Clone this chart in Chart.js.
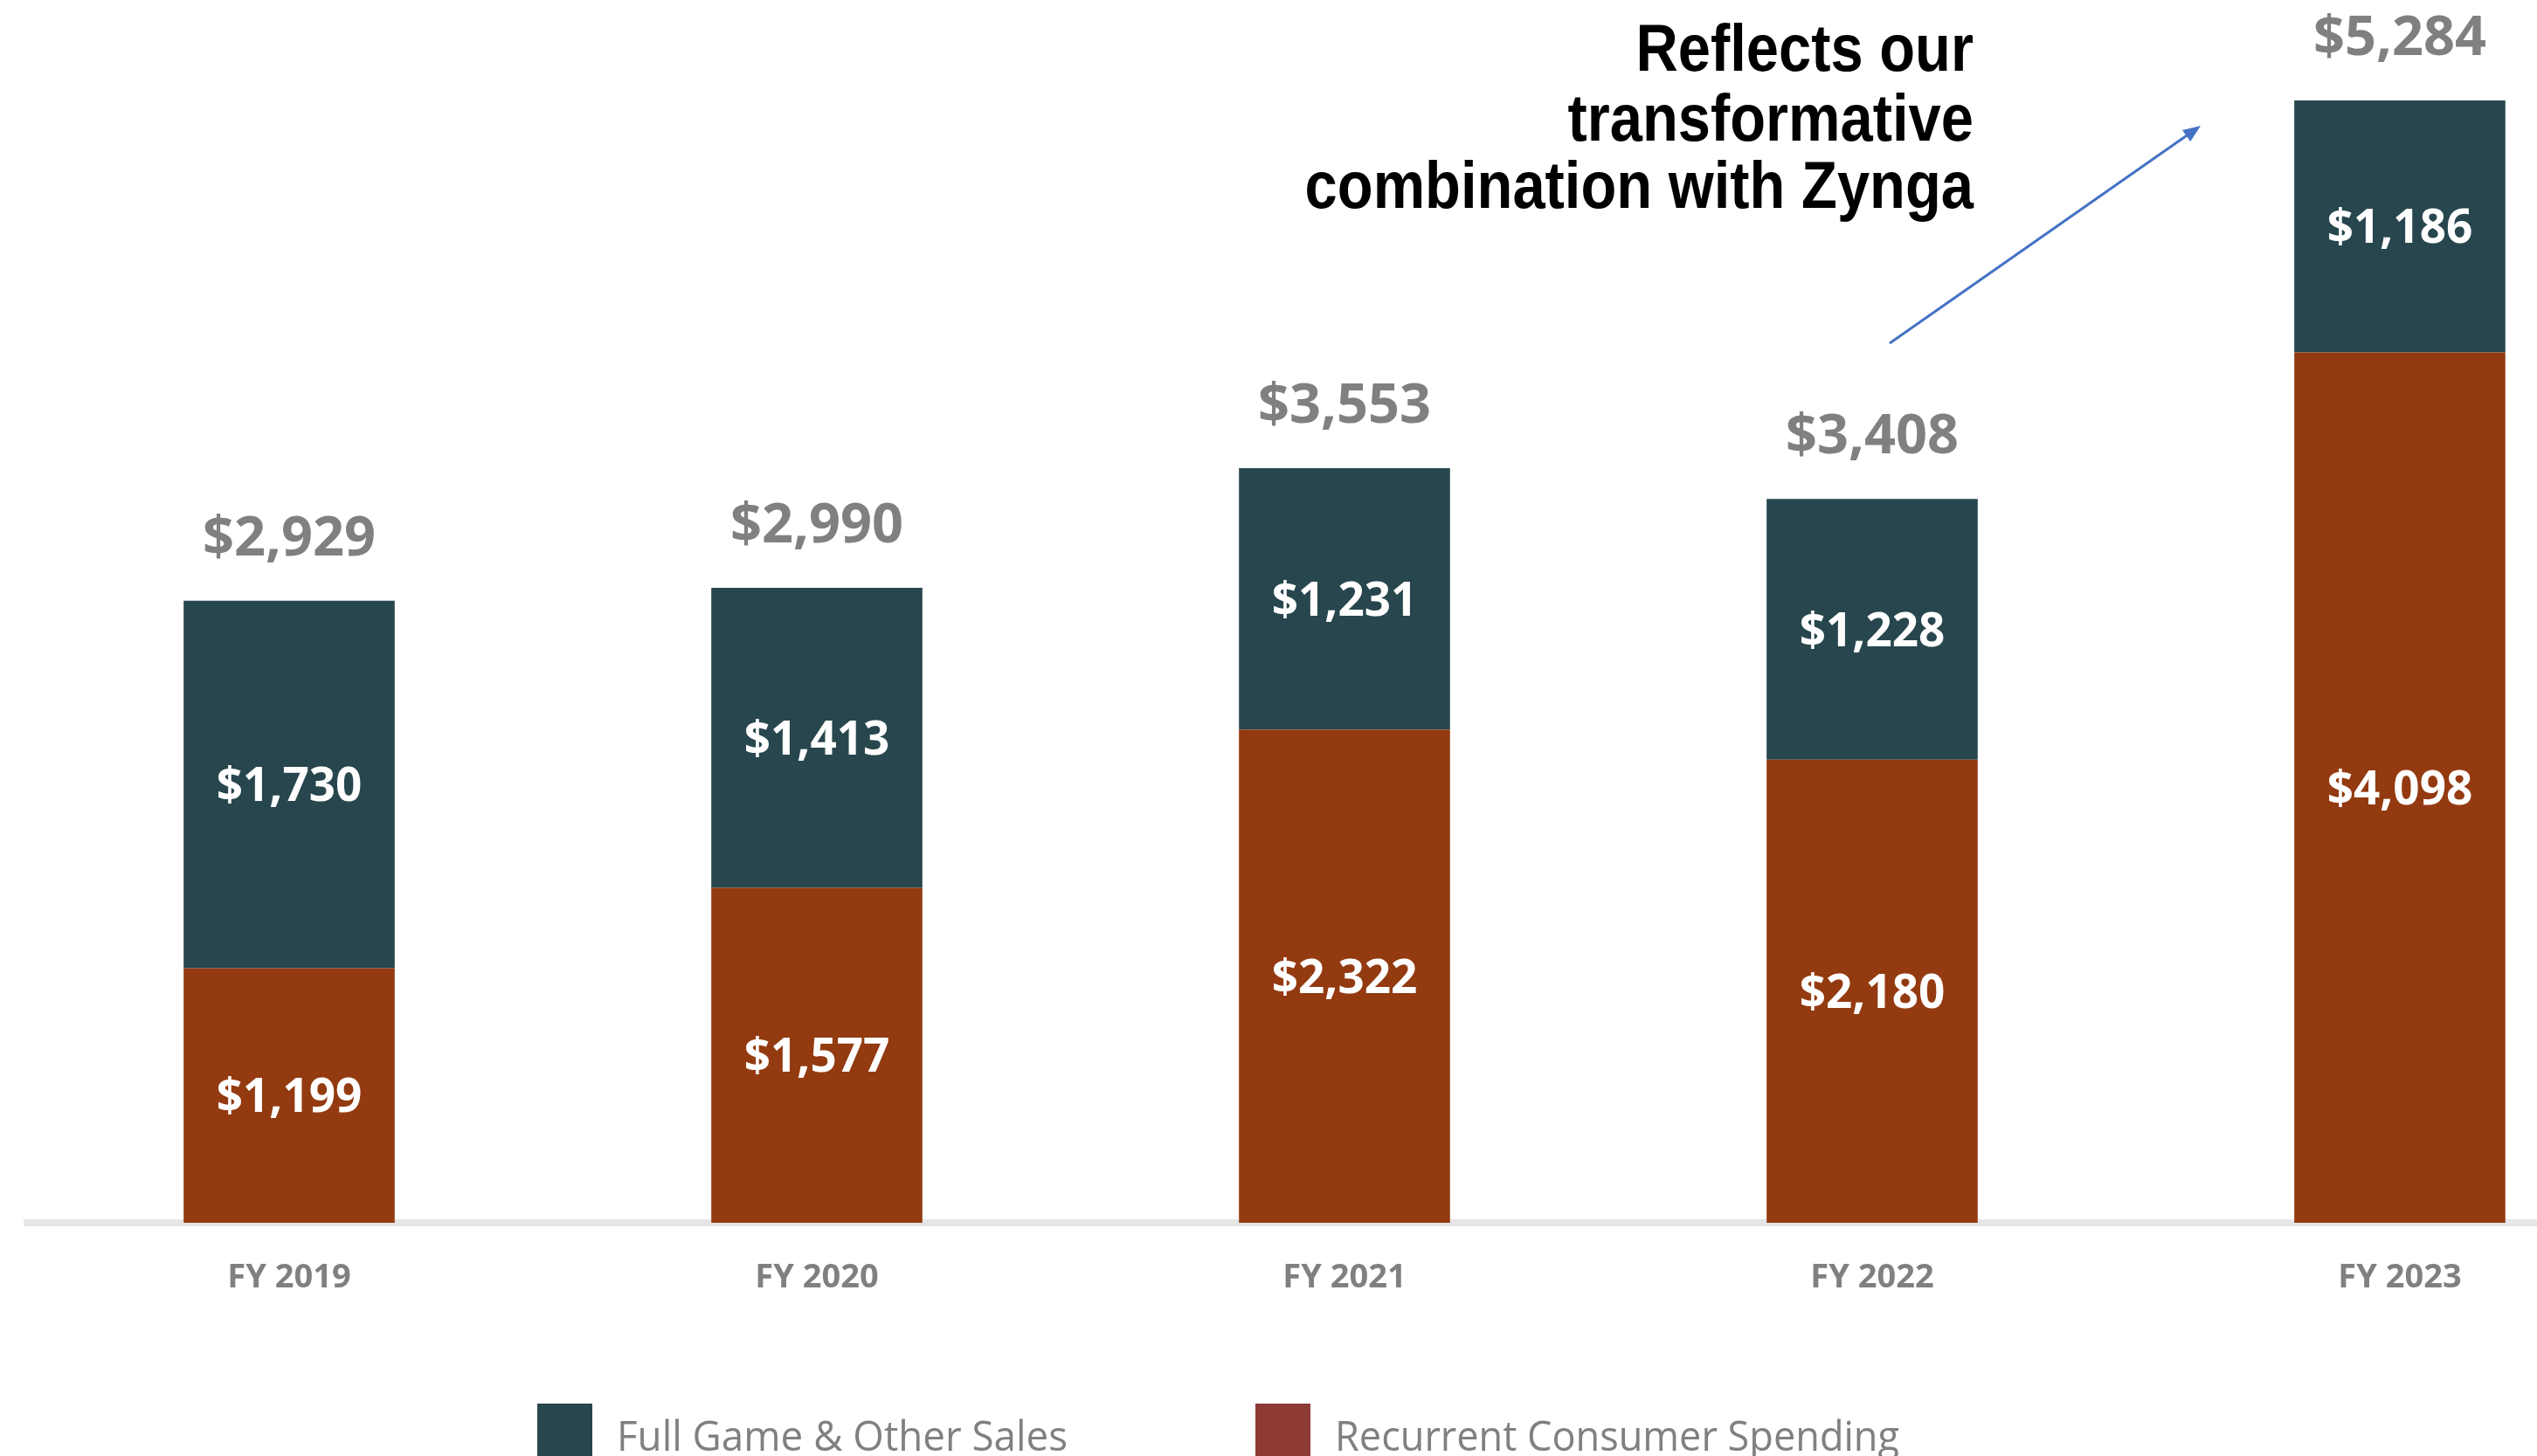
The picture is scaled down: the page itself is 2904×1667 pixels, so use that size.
<!DOCTYPE html>
<html>
<head>
<meta charset="utf-8">
<title>Net Bookings</title>
<script src="https://cdn.jsdelivr.net/npm/chart.js@4.4.0/dist/chart.umd.min.js"></script>
<style>
  html, body { margin: 0; padding: 0; background: #fff; }
  canvas { display: block; }
</style>
</head>
<body>
<canvas id="bookings" width="2904" height="1667"></canvas>
<script>
// net bookings ($M) by fiscal year, split by type
var years = ['FY 2019', 'FY 2020', 'FY 2021', 'FY 2022', 'FY 2023'];
var recurrent = [1199, 1577, 2322, 2180, 4098];
var fullGame = [1730, 1413, 1231, 1228, 1186];
var totals = [2929, 2990, 3553, 3408, 5284];

var seriesNames = ['Full Game & Other Sales', 'Recurrent Consumer Spending'];
var note = ['Reflects our', 'transformative', 'combination with Zynga'];

var TEAL = '#27464d';
var RUST = '#933a10';
var GREY = '#808080';

function money(v) { return '$' + v.toLocaleString('en-US'); }

// bars sit on a linear x axis so the first column can start away from the edge
function points(arr) {
  return arr.map(function (v, i) { return { x: i, y: v }; });
}

// values inside each segment + totals over each stack
var barLabels = {
  id: 'barLabels',
  afterDatasetsDraw: function (chart) {
    var ctx = chart.ctx;
    ctx.save();
    ctx.textAlign = 'center';
    ctx.textBaseline = 'middle';
    ctx.fillStyle = '#fff';
    ctx.font = 'bold 53px "Open Sans"';
    chart.data.datasets.forEach(function (ds, d) {
      chart.getDatasetMeta(d).data.forEach(function (bar, i) {
        ctx.fillText(money(ds.data[i].y), bar.x, (bar.y + bar.base) / 2 + 4);
      });
    });

    var top = chart.getDatasetMeta(1).data;
    ctx.fillStyle = GREY;
    ctx.font = 'bold 63px "Open Sans"';
    ctx.textBaseline = 'alphabetic';
    totals.forEach(function (t, i) {
      ctx.fillText(money(t), top[i].x, top[i].y - 52);
    });
    ctx.restore();
  }
};

// callout text and the arrow pointing at FY 2023
var callout = {
  id: 'callout',
  afterDraw: function (chart) {
    var ctx = chart.ctx;
    ctx.save();
    ctx.fillStyle = '#000';
    ctx.font = 'bold 76px "Liberation Sans"';
    ctx.textAlign = 'right';
    ctx.textBaseline = 'alphabetic';
    ctx.translate(2259, 0);
    ctx.scale(0.88, 1);
    var base = [81, 161, 238];
    note.forEach(function (line, i) { ctx.fillText(line, 0, base[i]); });
    ctx.restore();

    var x1 = 2163, y1 = 393, x2 = 2519, y2 = 144;
    var ang = Math.atan2(y2 - y1, x2 - x1);
    ctx.save();
    ctx.strokeStyle = '#4472c4';
    ctx.fillStyle = '#4472c4';
    ctx.lineWidth = 3;
    ctx.beginPath();
    ctx.moveTo(x1, y1);
    ctx.lineTo(x2 - 14 * Math.cos(ang), y2 - 14 * Math.sin(ang));
    ctx.stroke();
    ctx.translate(x2, y2);
    ctx.rotate(ang);
    ctx.beginPath();
    ctx.moveTo(0, 0);
    ctx.lineTo(-20, -8);
    ctx.lineTo(-20, 8);
    ctx.closePath();
    ctx.fill();
    ctx.restore();
  }
};

// legend row along the bottom edge
var legendRow = {
  id: 'legendRow',
  afterDraw: function (chart) {
    var ctx = chart.ctx;
    var items = [
      { text: seriesNames[0], color: TEAL, x: 615, w: 516 },
      { text: seriesNames[1], color: '#8e3b36', x: 1437, w: 646 }
    ];
    ctx.save();
    ctx.font = '47px "Open Sans"';
    ctx.textAlign = 'left';
    ctx.textBaseline = 'alphabetic';
    items.forEach(function (it) {
      ctx.fillStyle = it.color;
      ctx.fillRect(it.x, 1607, 63, 60);
      ctx.fillStyle = GREY;
      ctx.fillText(it.text, it.x + 91, 1661, it.w);
    });
    ctx.restore();
  }
};

new Chart(document.getElementById('bookings'), {
  type: 'bar',
  data: {
    datasets: [
      {
        label: seriesNames[1],
        data: points(recurrent),
        backgroundColor: RUST,
        barPercentage: 0.4,
        categoryPercentage: 1
      },
      {
        label: seriesNames[0],
        data: points(fullGame),
        backgroundColor: TEAL,
        barPercentage: 0.4,
        categoryPercentage: 1
      }
    ]
  },
  options: {
    responsive: false,
    animation: false,
    events: [],
    layout: { padding: { left: 31, right: 0, top: 0, bottom: 0 } },
    plugins: {
      legend: { display: false },
      tooltip: { enabled: false }
    },
    scales: {
      x: {
        type: 'linear',
        stacked: true,
        offset: false,
        min: -0.4967,
        max: 4.26,
        afterBuildTicks: function (scale) {
          scale.ticks = years.map(function (_, i) { return { value: i }; });
        },
        afterFit: function (scale) { scale.height = 267; },
        grid: { display: false, drawTicks: false },
        border: { color: '#e6e6e6', width: 8 },
        ticks: {
          padding: 40,
          color: GREY,
          autoSkip: false,
          maxRotation: 0,
          font: { family: 'Open Sans', size: 38, weight: 'bold' },
          callback: function (v) { return years[v]; }
        }
      },
      y: {
        stacked: true,
        display: false,
        min: 0,
        max: 5757
      }
    }
  },
  plugins: [barLabels, callout, legendRow]
});
</script>
</body>
</html>
